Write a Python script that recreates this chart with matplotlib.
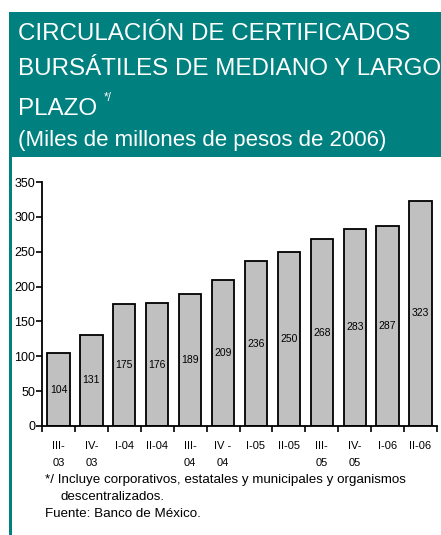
import numpy as np
import matplotlib.pyplot as plt
from matplotlib.patches import Rectangle

plt.rcParams['font.family'] = ['Liberation Sans', 'DejaVu Sans']

# datos
periodos = ['III-\n03', 'IV-\n03', 'I-04', 'II-04', 'III-\n04', 'IV -\n04',
            'I-05', 'II-05', 'III-\n05', 'IV-\n05', 'I-06', 'II-06']
valores = [104, 131, 175, 176, 189, 209, 236, 250, 268, 283, 287, 323]

W, H = 441, 535
teal = '#00807F'

fig = plt.figure(figsize=(W / 100, H / 100), dpi=100)

def px(x, y):
    return x / W, 1 - y / H

# encabezado verde
fig.patches.append(Rectangle(px(9, 157), (W - 9) / W, 145 / H, transform=fig.transFigure,
                             facecolor=teal, edgecolor='none', zorder=0))
fig.patches.append(Rectangle(px(9, H), 3 / W, (H - 157) / H, transform=fig.transFigure,
                             facecolor=teal, edgecolor='none', zorder=0))

fig.text(*px(18, 40), 'CIRCULACIÓN DE CERTIFICADOS', color='white', fontsize=17.4, va='baseline')
fig.text(*px(18, 75), 'BURSÁTILES DE MEDIANO Y LARGO', color='white', fontsize=17.4, va='baseline')
fig.text(*px(18, 115), 'PLAZO', color='white', fontsize=17.4, va='baseline')
fig.text(*px(104, 101), '*/', color='white', fontsize=8.5, va='baseline')
fig.text(*px(18, 146), '(Miles de millones de pesos de 2006)', color='white', fontsize=16, va='baseline')

# grafica
ax = fig.add_axes([42 / W, 1 - 426 / H, (437 - 42) / W, (426 - 182) / H])
x = np.arange(len(valores))
ax.bar(x, valores, width=0.68, color='#C0C0C0', edgecolor='black', linewidth=1.3)
for xi, v in zip(x, valores):
    ax.text(xi, v / 2, str(v), ha='center', va='center', fontsize=7.5)

ax.set_xlim(-0.5, 11.5)
ax.set_ylim(0, 350)
ax.set_yticks(np.arange(0, 351, 50))
ax.set_xticks(x)
ax.set_xticklabels(periodos, fontsize=8, linespacing=1.85, va='top')
ax.set_xticks(np.arange(-0.5, 12, 1), minor=True)
ax.tick_params(axis='x', which='major', length=0, pad=11)
ax.tick_params(axis='x', which='minor', length=4, width=1.2)
ax.tick_params(axis='y', length=4, width=1.2, labelsize=9, pad=1)
for s in ['top', 'right']:
    ax.spines[s].set_visible(False)
for s in ['left', 'bottom']:
    ax.spines[s].set_linewidth(1.3)

fig.text(*px(45, 483), '*/ Incluye corporativos, estatales y municipales y organismos',
         fontsize=9.6, va='baseline')
fig.text(*px(60, 500), 'descentralizados.', fontsize=9.6, va='baseline')
fig.text(*px(45, 517), 'Fuente: Banco de México.', fontsize=9.6, va='baseline')

fig.savefig('out.png', dpi=100)
